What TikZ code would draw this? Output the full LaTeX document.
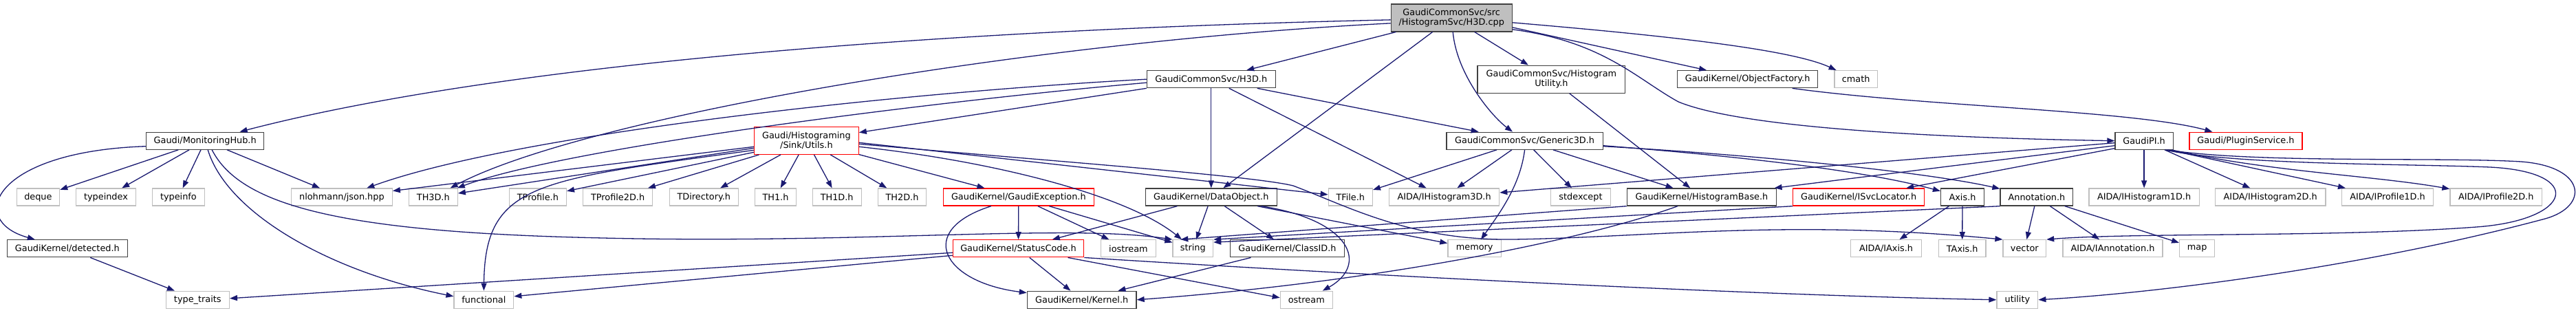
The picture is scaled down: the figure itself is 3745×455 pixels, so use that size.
\documentclass[tikz,border=0pt]{standalone}
\usepackage{fontspec}
\setmainfont{DejaVu Sans}
\usetikzlibrary{arrows.meta}
\definecolor{edgec}{HTML}{191970}
\definecolor{gry}{HTML}{BFBFBF}
\definecolor{dk}{HTML}{404040}
\tikzset{
 nb/.style={draw, rectangle, fill=white, inner sep=0pt, minimum height=25pt, line width=1.3pt, font=\fontsize{12.85pt}{14pt}\selectfont, align=center},
 gn/.style={nb, draw=gry},
 bn/.style={nb, draw=dk},
 rn/.style={nb, draw=red},
 rootn/.style={nb, draw=dk, fill=gry},
 ed/.style={draw=edgec, line width=1.3pt, -{Triangle[length=11pt,width=8pt]}},
}
\begin{document}
\begin{tikzpicture}[x=1pt,y=-1pt]
\useasboundingbox (0,0) rectangle (3745,455);
% row 1-3
\node[rootn, minimum width=176pt, minimum height=40pt] (main) at (2110.2,25.85) {GaudiCommonSvc/src\\/HistogramSvc/H3D.cpp};
\node[bn, minimum width=186.8pt] (h3dh) at (1760.8,115.2) {GaudiCommonSvc/H3D.h};
\node[bn, minimum width=214.7pt, minimum height=40pt] (hutil) at (2255.4,115.2) {GaudiCommonSvc/Histogram\\Utility.h};
\node[bn, minimum width=204.4pt] (objfac) at (2540.6,115.2) {GaudiKernel/ObjectFactory.h};
\node[gn, minimum width=62.5pt] (cmath) at (2698.2,115.2) {cmath};
\node[bn, minimum width=170.9pt] (monhub) at (298.2,204.7) {Gaudi/MonitoringHub.h};
\node[rn, minimum width=151.6pt, minimum height=40pt] (sink) at (1172.4,204.3) {Gaudi/Histograming\\/Sink/Utils.h};
\node[bn, minimum width=227.3pt] (gen3d) at (2216.6,204.7) {GaudiCommonSvc/Generic3D.h};
\node[bn, minimum width=84.2pt] (gaudipi) at (3117.1,204.7) {GaudiPI.h};
\node[rn, minimum width=163.9pt] (plugin) at (3264.9,204.7) {Gaudi/PluginService.h};
% row 4
\node[gn, minimum width=62.5pt] (deque) at (55.4,286.5) {deque};
\node[gn, minimum width=86.6pt] (typeindex) at (154,286.5) {typeindex};
\node[gn, minimum width=75.9pt] (typeinfo) at (259.4,286.5) {typeinfo};
\node[gn, minimum width=146.7pt] (json) at (496.9,286.5) {nlohmann/json.hpp};
\node[gn, minimum width=70.9pt] (th3d) at (629.8,286.5) {TH3D.h};
\node[gn, minimum width=83pt] (tprofile) at (781.9,286.5) {TProfile.h};
\node[gn, minimum width=101.2pt] (tprofile2d) at (898.1,286.5) {TProfile2D.h};
\node[gn, minimum width=100pt] (tdirectory) at (1023.3,286.5) {TDirectory.h};
\node[gn, minimum width=60.1pt] (th1) at (1127.5,286.5) {TH1.h};
\node[gn, minimum width=71pt] (th1d) at (1216.7,286.5) {TH1D.h};
\node[gn, minimum width=70.4pt] (th2d) at (1311.5,286.5) {TH2D.h};
\node[rn, minimum width=219.1pt] (gexc) at (1480.8,286.5) {GaudiKernel/GaudiException.h};
\node[bn, minimum width=190.7pt] (dataobj) at (1760.8,286.5) {GaudiKernel/DataObject.h};
\node[gn, minimum width=64pt] (tfile) at (1963.3,286.5) {TFile.h};
\node[gn, minimum width=160.1pt] (ihist3d) at (2099.6,286.5) {AIDA/IHistogram3D.h};
\node[gn, minimum width=86.6pt] (stdexcept) at (2298,286.5) {stdexcept};
\node[bn, minimum width=217.3pt] (histbase) at (2474,286.5) {GaudiKernel/HistogramBase.h};
\node[rn, minimum width=190.6pt] (isvcloc) at (2702.1,286.5) {GaudiKernel/ISvcLocator.h};
\node[bn, minimum width=62.9pt] (axis) at (2853,286.5) {Axis.h};
\node[bn, minimum width=105.6pt] (annot) at (2960.9,286.5) {Annotation.h};
\node[gn, minimum width=160.2pt] (ihist1d) at (3117.1,286.5) {AIDA/IHistogram1D.h};
\node[gn, minimum width=160.6pt] (ihist2d) at (3300.7,286.5) {AIDA/IHistogram2D.h};
\node[gn, minimum width=133.5pt] (iprof1d) at (3471,286.5) {AIDA/IProfile1D.h};
\node[gn, minimum width=133.5pt] (iprof2d) at (3628.7,286.5) {AIDA/IProfile2D.h};
% row 5
\node[bn, minimum width=175.1pt] (detected) at (97.9,361.3) {GaudiKernel/detected.h};
\node[rn, minimum width=190.2pt] (statuscode) at (1480.5,361.3) {GaudiKernel/StatusCode.h};
\node[gn, minimum width=79.9pt] (iostream) at (1640.4,361.3) {iostream};
\node[gn, minimum width=58.5pt] (string) at (1734.3,361.3) {string};
\node[bn, minimum width=166.2pt] (classid) at (1871.5,361.3) {GaudiKernel/ClassID.h};
\node[gn, minimum width=77.5pt] (memory) at (2143.7,361.3) {memory};
\node[gn, minimum width=102.8pt] (iaxis) at (2742,361.3) {AIDA/IAxis.h};
\node[gn, minimum width=68.8pt] (taxis) at (2852.7,361.3) {TAxis.h};
\node[gn, minimum width=62.5pt] (vector) at (2943.3,361.3) {vector};
\node[gn, minimum width=145pt] (iannot) at (3071.5,361.3) {AIDA/IAnnotation.h};
\node[gn, minimum width=50.8pt] (map) at (3194.1,361.3) {map};
% row 6
\node[gn, minimum width=92.1pt] (typetraits) at (287.3,435.8) {type\_traits};
\node[gn, minimum width=86.6pt] (functional) at (703.4,435.8) {functional};
\node[bn, minimum width=158.6pt] (kernel) at (1572.7,435.8) {GaudiKernel/Kernel.h};
\node[gn, minimum width=75.9pt] (ostream) at (1899.3,435.8) {ostream};
\node[gn, minimum width=59.7pt] (utility) at (2932.9,435.8) {utility};

% edges from main
\draw[ed] ([yshift=-3pt]main.west) .. controls (1300,45) and (700,100) .. (monhub);
\draw[ed] (main) -- (h3dh);
\draw[ed] ([yshift=-8pt]main.west) .. controls (1500,60) and (850,170) .. (th3d);
\draw[ed] (main) -- (dataobj);
\draw[ed] ([xshift=2pt]main.south) .. controls (2118,110) and (2170,170) .. (gen3d);
\draw[ed] (main) -- (hutil);
\draw[ed] ([yshift=-14pt]main.east) -- (objfac);
\draw[ed] ([yshift=-7pt]main.east) .. controls (2400,50) and (2600,70) .. (cmath);
\draw[ed] ([yshift=-17pt]main.east) .. controls (2330,60) and (2380,115) .. (2440,148) .. controls (2530,185) and (2800,200) .. (gaudipi.west);
% h3dh
\draw[ed] (h3dh.south west) -- (sink);
\draw[ed] (h3dh.west) .. controls (1300,135) and (750,195) .. (json);
\draw[ed] ([yshift=-5pt]h3dh.west) .. controls (1350,148) and (820,215) .. (th3d);
\draw[ed] (h3dh) -- (dataobj);
\draw[ed] (h3dh) -- (gen3d);
\draw[ed] (h3dh) -- (ihist3d);
% hutil, objfac
\draw[ed] (hutil) -- (histbase);
\draw[ed] ([xshift=65pt]objfac.south) .. controls (2800,155) and (3100,160) .. (plugin);
% gen3d
\draw[ed] (gen3d) -- (tfile);
\draw[ed] (gen3d) -- (ihist3d);
\draw[ed] (gen3d.south) .. controls (2210,270) and (2180,310) .. (memory);
\draw[ed] (gen3d) -- (stdexcept);
\draw[ed] (gen3d) -- (histbase);
\draw[ed] ([yshift=-7pt]gen3d.east) .. controls (2500,225) and (2700,245) .. (axis);
\draw[ed] ([yshift=-8pt]gen3d.east) .. controls (2550,225) and (2800,250) .. (annot);
% monhub
\draw[ed] ([yshift=-8pt]monhub.west) .. controls (-10,220) and (-50,320) .. (detected);
\draw[ed] (monhub) -- (deque);
\draw[ed] (monhub) -- (typeindex);
\draw[ed] (monhub) -- (typeinfo);
\draw[ed] (monhub) -- (json);
\draw[ed] ([xshift=10pt]monhub.south) .. controls (350,300) and (500,338) .. (877,346) .. controls (1250,355) and (1550,325) .. (string.north west);
\draw[ed] ([xshift=4pt]monhub.south) .. controls (330,310) and (480,395) .. ([yshift=5pt]functional.west);
\draw[ed] (detected) -- (typetraits);
% sink
\draw[ed] ([yshift=-9pt]sink.west) -- (json);
\draw[ed] ([yshift=-11pt]sink.west) -- (th3d);
\draw[ed] ([yshift=-14pt]sink.west) .. controls (780,262) and (705,265) .. (functional.north);
\draw[ed] ([yshift=-17pt]sink.west) -- (tprofile);
\draw[ed] (sink) -- (tprofile2d);
\draw[ed] (sink) -- (tdirectory);
\draw[ed] (sink) -- (th1);
\draw[ed] (sink) -- (th1d);
\draw[ed] (sink) -- (th2d);
\draw[ed] (sink) -- (gexc);
\draw[ed] ([yshift=-9pt]sink.east) .. controls (1450,235) and (1640,285) .. (string);
\draw[ed] ([yshift=-3pt]sink.east) -- (tfile);
\draw[ed] ([yshift=-5pt]sink.east) .. controls (1500,232) and (1820,255) .. (1880,270) .. controls (1960,300) and (2050,350) .. (2200,348) .. controls (2400,345) and (2600,318) .. (vector.north west);
% gexc
\draw[ed] (gexc) -- (statuscode);
\draw[ed] (gexc) -- (iostream);
\draw[ed] (gexc) -- (string);
\draw[ed] ([xshift=-40pt]gexc.south) .. controls (1330,335) and (1370,410) .. (kernel);
% dataobj
\draw[ed] (dataobj) -- (statuscode);
\draw[ed] (dataobj) -- (string);
\draw[ed] (dataobj) -- (classid);
\draw[ed] (dataobj) -- (memory);
\draw[ed] ([xshift=73pt]dataobj.south) .. controls (1965,320) and (1990,385) .. (ostream);
\draw[ed] ([xshift=-53pt]classid.south) -- (kernel);
% statuscode
\draw[ed] (statuscode) -- (kernel);
\draw[ed] ([yshift=-6pt]statuscode.west) -- ([yshift=2pt]typetraits.east);
\draw[ed] ([yshift=-10pt]statuscode.west) -- ([yshift=5pt]functional.east);
\draw[ed] ([xshift=72pt]statuscode.south) -- ([yshift=3pt]ostream.west);
\draw[ed] (statuscode.south east) .. controls (1900,395) and (2500,428) .. (utility.west);
% histbase, isvcloc, annot to string
\draw[ed] ([xshift=-35pt]histbase.south) .. controls (2300,350) and (2000,410) .. (kernel.east);
\draw[ed] (histbase.south west) -- ([xshift=-18pt]string.north);
\draw[ed] (isvcloc.south west) -- (string.north east);
\draw[ed] (annot.south west) -- ([yshift=-4pt]string.north east);
% gaudipi
\draw[ed] ([yshift=-3pt]gaudipi.west) -- (ihist3d);
\draw[ed] ([yshift=-7pt]gaudipi.west) -- (histbase);
\draw[ed] ([yshift=-11pt]gaudipi.west) -- (isvcloc);
\draw[ed] (gaudipi) -- (ihist1d);
\draw[ed] ([xshift=30pt]gaudipi.south) -- (ihist2d);
\draw[ed] ([xshift=35pt]gaudipi.south) -- (iprof1d);
\draw[ed] ([xshift=40pt]gaudipi.south) .. controls (3300,250) and (3450,255) .. (iprof2d);
\draw[ed] ([xshift=30pt]gaudipi.south) .. controls (3250,240) and (3500,238) .. (3620,243) .. controls (3760,250) and (3740,320) .. (3600,330) .. controls (3400,345) and (3100,338) .. (vector.north east);
\draw[ed] ([xshift=33pt]gaudipi.south) .. controls (3280,238) and (3550,228) .. (3665,235) .. controls (3760,242) and (3765,300) .. (3700,318) .. controls (3450,385) and (3150,425) .. (utility.east);
% annot, axis
\draw[ed] (annot) -- (vector);
\draw[ed] (annot) -- (iannot);
\draw[ed] (annot) -- (map);
\draw[ed] (axis) -- (iaxis);
\draw[ed] (axis) -- (taxis);
\end{tikzpicture}
\end{document}
